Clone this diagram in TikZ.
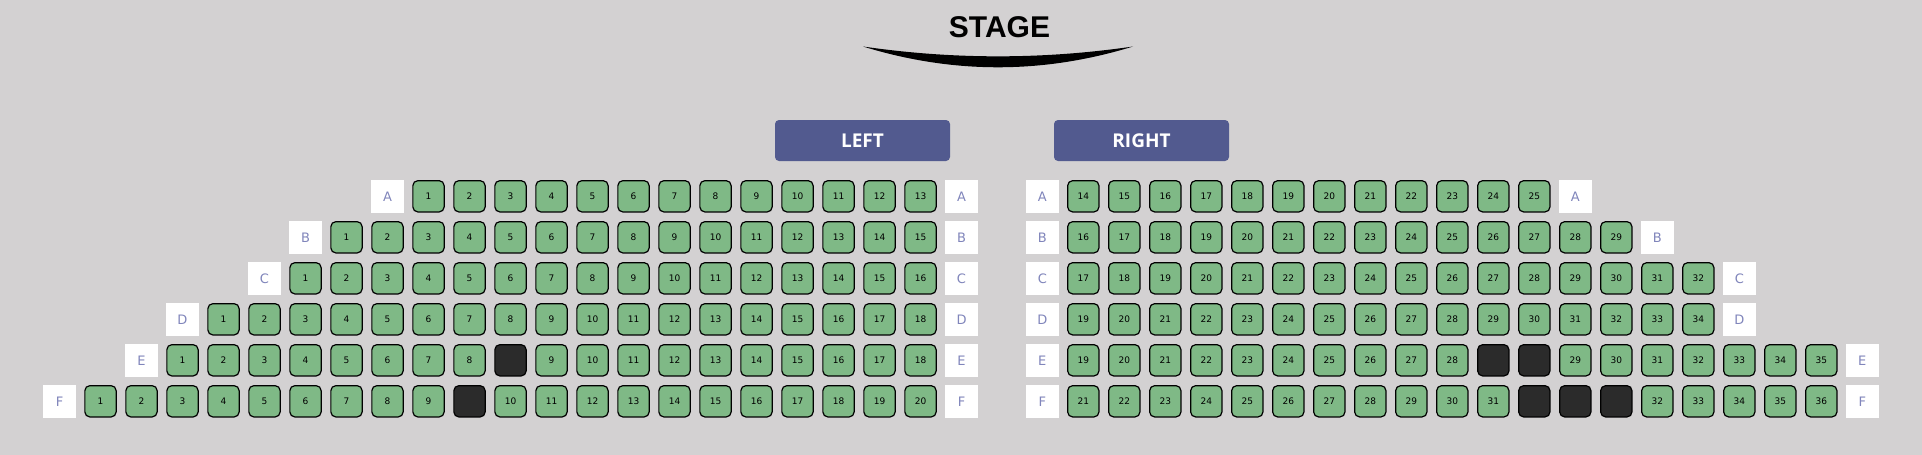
\documentclass[tikz,border=0pt]{standalone}
\usepackage{fontspec}
\setmainfont{DejaVu Sans}
\newfontfamily\stagefont{Liberation Sans}
\newfontfamily\bannerfont{Open Sans}

\definecolor{hallgray}{HTML}{D3D1D2}
\definecolor{seatgreen}{HTML}{7FB986}
\definecolor{seatdark}{HTML}{2B2B2B}
\definecolor{bannerblue}{HTML}{525A8F}
\definecolor{letterblue}{HTML}{8085BB}

\tikzset{
  seat/.style={draw=black, line width=1.2pt, fill=seatgreen, rounded corners=5pt,
    minimum size=31.3pt, inner sep=0pt, font=\fontsize{9}{9}\selectfont},
  taken/.style={seat, fill=seatdark},
  rowlabel/.style={fill=white, minimum size=33pt, inner sep=0pt, text=letterblue,
    font=\fontsize{13}{13}\selectfont},
  banner/.style={fill=bannerblue, rounded corners=4pt, minimum width=175pt,
    minimum height=41pt, inner sep=0pt, text=white,
    font=\bannerfont\bfseries\fontsize{19}{19}\selectfont},
}

% #1 block, #2 x of first label, #3 y, #4 row letter, #5 number of places, #6 seats (0 = taken)
\newcommand{\seatrow}[6]{
  \node[rowlabel] (#1-#4-0) at (#2,#3) {#4};
  \foreach \s [count=\i] in {#6} {
    \ifnum\s=0
      \node[taken] (#1-#4-\i) at ({#2+41*\i},#3) {};
    \else
      \node[seat] (#1-#4-\i) at ({#2+41*\i},#3) {\s};
    \fi
  }
  \node[rowlabel] (#1-#4-end) at ({#2+41*(#5+1)},#3) {#4};
}

\begin{document}
\begin{tikzpicture}[x=1pt,y=-1pt]
\fill[hallgray] (0,0) rectangle (1922,455);

% stage
\node[font=\stagefont\bfseries\fontsize{30}{30}\selectfont] (stage) at (999.5,27.5) {STAGE};
\fill[black] (863,46.5) .. controls (953,59.6) and (1043,59.6) .. (1133,46.5)
  .. controls (1043,74.2) and (953,74.2) .. (863,46.5);

% blocks
\node[banner] (leftbanner) at (862.5,140.5) {LEFT};
\node[banner] (rightbanner) at (1141.5,140.5) {RIGHT};

% left block
\seatrow{L}{387.5}{196.3}{A}{13}{1,...,13}
\seatrow{L}{305.5}{237.3}{B}{15}{1,...,15}
\seatrow{L}{264.5}{278.3}{C}{16}{1,...,16}
\seatrow{L}{182.5}{319.3}{D}{18}{1,...,18}
\seatrow{L}{141.5}{360.3}{E}{19}{1,...,8,0,9,10,...,18}
\seatrow{L}{59.5}{401.3}{F}{21}{1,...,9,0,10,11,...,20}

% right block
\seatrow{R}{1042.3}{196.3}{A}{12}{14,15,...,25}
\seatrow{R}{1042.3}{237.3}{B}{14}{16,17,...,29}
\seatrow{R}{1042.3}{278.3}{C}{16}{17,18,...,32}
\seatrow{R}{1042.3}{319.3}{D}{16}{19,20,...,34}
\seatrow{R}{1042.3}{360.3}{E}{19}{19,20,...,28,0,0,29,30,...,35}
\seatrow{R}{1042.3}{401.3}{F}{19}{21,22,...,31,0,0,0,32,33,...,36}
\end{tikzpicture}
\end{document}
